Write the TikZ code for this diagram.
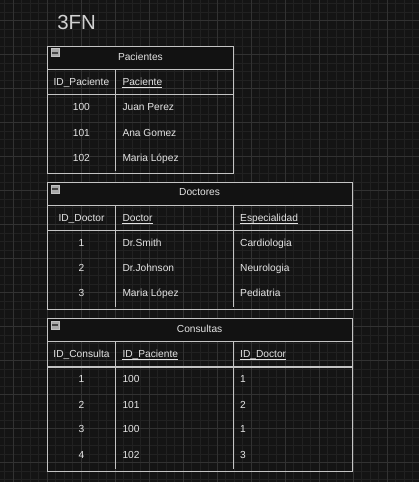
\documentclass[tikz,border=0pt]{standalone}
\usepackage{fontspec}
\setmainfont{Liberation Sans}
\definecolor{bg}{HTML}{141414}
\definecolor{gminor}{HTML}{212121}
\definecolor{gmajor}{HTML}{323232}
\definecolor{hdrfill}{HTML}{121212}
\definecolor{linec}{HTML}{C4C4C4}
\definecolor{txtc}{HTML}{E4E4E4}
\definecolor{iconfill}{HTML}{A8A8A8}
\definecolor{iconbar}{HTML}{454545}
\begin{document}
\begin{tikzpicture}[x=1pt,y=-1pt,
  gridminor/.style={draw=gminor,line width=0.8pt},
  gridmajor/.style={draw=gmajor,line width=1pt},
  frame/.style={draw=linec,line width=1pt},
  sepline/.style={draw=linec,line width=1pt},
  headline/.style={draw=linec,line width=1.6pt},
  hdr/.style={fill=hdrfill},
  txt/.style={font=\fontsize{10.2}{12}\selectfont,text=txtc,inner sep=0pt},
  cc/.style={txt,anchor=base},
  cl/.style={txt,anchor=base west},
  uline/.style={draw=txtc,line width=0.75pt},
  icon/.style={fill=iconfill,draw=iconfill!70!white,line width=0.6pt},
  iconminus/.style={fill=iconbar}]
\useasboundingbox (0,0) rectangle (419,482);
\fill[bg] (0,0) rectangle (419,482);
% grid
\foreach \i in {0,...,49} \draw[gridminor] ({4.8+8.5*\i},0) -- ({4.8+8.5*\i},482);
\foreach \j in {0,...,56} \draw[gridminor] (0,{3.5+8.5*\j}) -- (419,{3.5+8.5*\j});
\foreach \i in {0,...,12} \draw[gridmajor] ({13.3+34*\i},0) -- ({13.3+34*\i},482);
\foreach \j in {0,...,13} \draw[gridmajor] (0,{20.5+34*\j}) -- (419,{20.5+34*\j});

% title
\node[anchor=base west,inner sep=0pt,text=txtc!92!black,font=\fontsize{20.4}{24}\selectfont] (title) at (57.2,29.3) {3FN};

% ---------------- Pacientes ----------------
\fill[hdr] (47.3,46) rectangle (233.5,69.5);
\draw[frame] (47.3,46) rectangle (233.5,173.5);
\draw[sepline] (47.3,69.5) -- (233.5,69.5);
\draw[headline] (47.3,94.5) -- (233.5,94.5);
\draw[sepline] (115.5,69.5) -- (115.5,171);
\draw[icon] (51,48.5) rectangle (59.5,56.5);
\fill[iconminus] (52.3,51.6) rectangle (58.2,53.6);
\node[cc] (pT) at (140.4,60.3) {Pacientes};
\node[cc] (pH1) at (81.4,85.3) {ID\_Paciente};
\node[cl] (pH2) at (122.3,85.3) {Paciente};
\draw[uline] ([yshift=-1.9pt]pH2.base west) -- ([yshift=-1.9pt]pH2.base east);
\node[cc] (p11) at (81.4,110.3) {100};
\node[cl] (p12) at (122.3,110.3) {Juan Perez};
\node[cc] (p21) at (81.4,136.3) {101};
\node[cl] (p22) at (122.3,136.3) {Ana Gomez};
\node[cc] (p31) at (81.4,161.6) {102};
\node[cl] (p32) at (122.3,161.6) {Maria López};

% ---------------- Doctores ----------------
\fill[hdr] (47.3,182.3) rectangle (352,205.7);
\draw[frame] (47.3,182.3) rectangle (352,309.7);
\draw[sepline] (47.3,205.7) -- (352,205.7);
\draw[headline] (47.3,230.3) -- (352,230.3);
\draw[sepline] (115.7,205.7) -- (115.7,306.7);
\draw[sepline] (233.3,205.7) -- (233.3,306.7);
\draw[icon] (51,184.8) rectangle (59.5,192.8);
\fill[iconminus] (52.3,187.9) rectangle (58.2,189.9);
\node[cc] (dT) at (199.6,195.9) {Doctores};
\node[cc] (dH1) at (81.5,221.3) {ID\_Doctor};
\node[cl] (dH2) at (122.3,221.3) {Doctor};
\node[cl] (dH3) at (240,221.3) {Especialidad};
\draw[uline] ([yshift=-1.9pt]dH2.base west) -- ([yshift=-1.9pt]dH2.base east);
\draw[uline] ([yshift=-1.9pt]dH3.base west) -- ([yshift=-1.9pt]dH3.base east);
\node[cc] (d11) at (81.5,246.3) {1};
\node[cl] (d12) at (122.3,246.3) {Dr.Smith};
\node[cl] (d13) at (240,246.3) {Cardiologia};
\node[cc] (d21) at (81.5,271.9) {2};
\node[cl] (d22) at (122.3,271.9) {Dr.Johnson};
\node[cl] (d23) at (240,271.9) {Neurologia};
\node[cc] (d31) at (81.5,296.9) {3};
\node[cl] (d32) at (122.3,296.9) {Maria López};
\node[cl] (d33) at (240,296.9) {Pediatria};

% ---------------- Consultas ----------------
\fill[hdr] (47.3,318.3) rectangle (352,341.3);
\draw[frame] (47.3,318.3) rectangle (352,471);
\draw[sepline] (47.3,341.3) -- (352,341.3);
\draw[headline] (47.3,366.7) -- (352,366.7);
\draw[sepline] (115.7,341.3) -- (115.7,468.7);
\draw[sepline] (233.3,341.3) -- (233.3,468.7);
\draw[icon] (51,320.8) rectangle (59.5,328.8);
\fill[iconminus] (52.3,323.9) rectangle (58.2,325.9);
\node[cc] (cT) at (199.6,332.9) {Consultas};
\node[cc] (cH1) at (81.5,357.3) {ID\_Consulta};
\node[cl] (cH2) at (122.3,357.3) {ID\_Paciente};
\node[cl] (cH3) at (240,357.3) {ID\_Doctor};
\draw[uline] ([yshift=-1.9pt]cH2.base west) -- ([yshift=-1.9pt]cH2.base east);
\draw[uline] ([yshift=-1.9pt]cH3.base west) -- ([yshift=-1.9pt]cH3.base east);
\node[cc] (c11) at (81.5,382.3) {1};
\node[cl] (c12) at (122.3,382.3) {100};
\node[cl] (c13) at (240,382.3) {1};
\node[cc] (c21) at (81.5,408.3) {2};
\node[cl] (c22) at (122.3,408.3) {101};
\node[cl] (c23) at (240,408.3) {2};
\node[cc] (c31) at (81.5,432.9) {3};
\node[cl] (c32) at (122.3,432.9) {100};
\node[cl] (c33) at (240,432.9) {1};
\node[cc] (c41) at (81.5,458.9) {4};
\node[cl] (c42) at (122.3,458.9) {102};
\node[cl] (c43) at (240,458.9) {3};
\end{tikzpicture}
\end{document}
